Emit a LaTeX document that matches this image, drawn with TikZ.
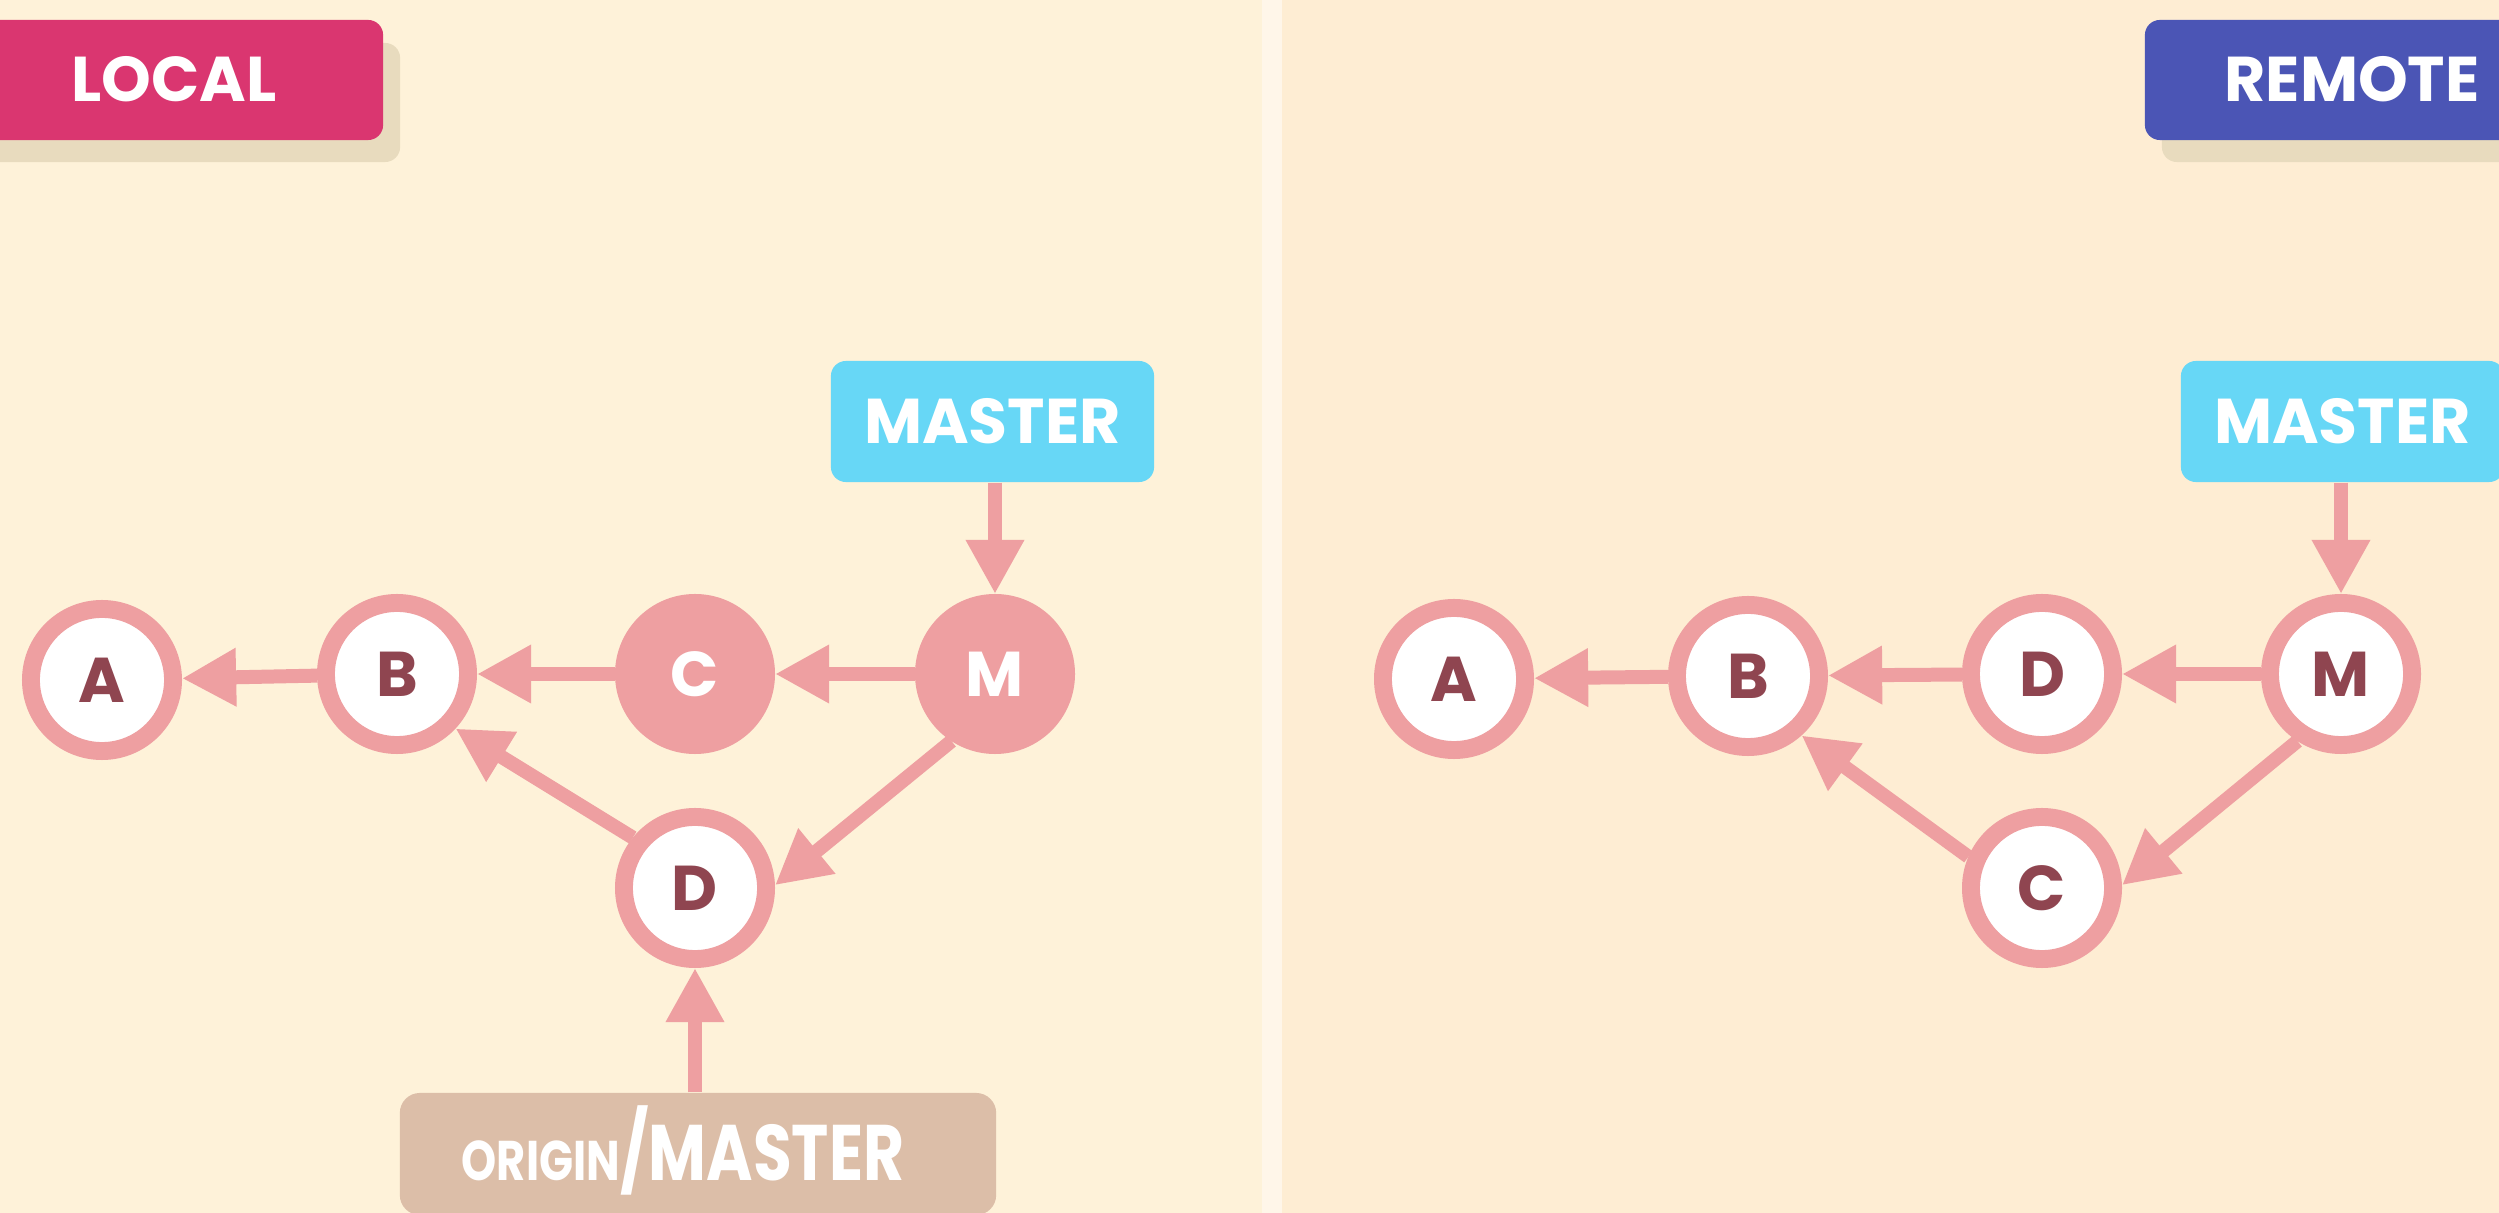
\documentclass[tikz,border=0pt]{standalone}
\usepackage{fontspec}
\setmainfont{Poppins}
\usepackage{graphicx}
\usetikzlibrary{arrows.meta}
\definecolor{bgL}{RGB}{254,242,217}
\definecolor{bgR}{RGB}{254,237,211}
\definecolor{divc}{RGB}{255,246,233}
\definecolor{localc}{RGB}{218,54,112}
\definecolor{remotec}{RGB}{75,85,181}
\definecolor{shadowc}{RGB}{232,219,190}
\definecolor{masterc}{RGB}{103,215,246}
\definecolor{originc}{RGB}{220,190,168}
\definecolor{ringc}{RGB}{238,159,161}
\definecolor{letc}{RGB}{143,69,80}
\begin{document}
\begin{tikzpicture}[x=0.01cm,y=-0.01cm,
 every node/.style={font=\bfseries\fontsize{18pt}{20pt}\selectfont},
 commit/.style={circle, draw=ringc, line width=5.1pt, fill=white, minimum size=1.42cm, inner sep=0pt, outer sep=2.55pt, text=letc},
 commitF/.style={commit, fill=ringc, text=white},
 arr/.style={draw=ringc, line width=3.98pt, -{Triangle[length=15.4pt,width=15.6pt]}},
 tagbox/.style={rectangle, rounded corners=0.15cm, fill=masterc, minimum width=3.23cm, minimum height=1.21cm, text=white, inner sep=0pt},
 hdrbox/.style={rectangle, rounded corners=0.15cm, minimum height=1.2cm, inner sep=0pt},
 lbl/.style={text=white, inner sep=0pt, anchor=base},
]
\useasboundingbox (0,0) rectangle (2499,1213);
% backgrounds
\fill[bgL] (0,0) rectangle (1272,1213);
\fill[bgR] (1272,0) rectangle (2499,1213);
\fill[divc] (1262,0) rectangle (1282,1213);

% header boxes
\node[hdrbox, fill=shadowc, minimum width=4.2cm, minimum height=1.19cm] (localsh) at (190,102.5) {};
\node[hdrbox, fill=localc, minimum width=4.03cm] (localbox) at (181.5,80) {};
\node[lbl] (localtxt) at (174,102) {LOCAL};
\node[hdrbox, fill=shadowc, minimum width=3.58cm, minimum height=1.19cm] (remotesh) at (2341,102.5) {};
\node[hdrbox, fill=remotec, minimum width=3.75cm] (remotebox) at (2332.5,80) {};
\node[lbl] (remotetxt) at (2352,102) {REMOTE};

% local graph
\node[commit] (A) at (102,680) {A};
\node[commit] (B) at (397,674) {B};
\node[commitF] (C) at (695,674) {C};
\node[commitF] (M) at (995,674) {M};
\node[commit] (D) at (695,888) {D};
\node[tagbox] (mastL) at (992.5,421.5) {MASTER};
\node[rectangle, rounded corners=0.2cm, fill=originc, minimum width=5.96cm, minimum height=1.22cm, inner sep=0pt] (orig) at (698,1154) {};
\node[lbl] (origtxt) at (683,1180) {\scalebox{0.8}[1]{\fontsize{15.9pt}{18pt}\selectfont ORIGIN\fontsize{22.4pt}{24pt}\selectfont/MASTER}};

\draw[arr] (B) -- (A);
\draw[arr] (C) -- (B);
\draw[arr] (M) -- (C);
\draw[arr] (M.237) -- (D.2);
\draw[arr] (D.141) -- (B.-43);
\draw[arr] (mastL.south -| M) -- (M.north);
\draw[arr] (orig.north -| D) -- (D.south);

% remote graph
\node[commit] (AR) at (1454,679) {A};
\node[commit] (BR) at (1748,676) {B};
\node[commit] (DR) at (2042,674) {D};
\node[commit] (MR) at (2341,674) {M};
\node[commit] (CR) at (2042,888) {C};
\node[tagbox] (mastR) at (2342.5,421.5) {MASTER};

\draw[arr] (BR) -- (AR);
\draw[arr] (DR) -- (BR);
\draw[arr] (MR) -- (DR);
\draw[arr] (MR.237) -- (CR.2);
\draw[arr] (CR.157) -- (BR.-48.5);
\draw[arr] (mastR.south -| MR) -- (MR.north);
\end{tikzpicture}
\end{document}
